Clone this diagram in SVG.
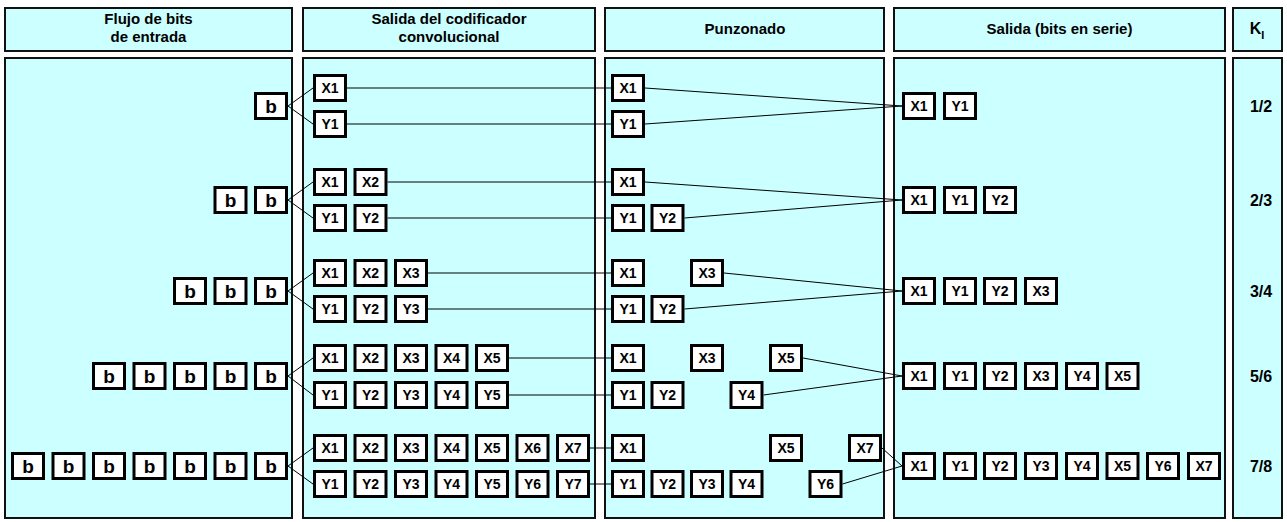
<svg xmlns="http://www.w3.org/2000/svg" width="1287" height="522" viewBox="0 0 1287 522">
<style>
.pn{fill:#ccffff;stroke:#111;stroke-width:2}
.bx{fill:#fff;stroke:#000;stroke-width:3}
.t{font-family:"Liberation Sans",Arial,sans-serif;font-weight:bold;font-size:14px;text-anchor:middle;fill:#000}
.tb{font-family:"Liberation Sans",Arial,sans-serif;font-weight:bold;font-size:19px;text-anchor:middle;fill:#000}
.h{font-family:"Liberation Sans",Arial,sans-serif;font-weight:bold;font-size:15px;text-anchor:middle;fill:#000}
.k{font-family:"Liberation Sans",Arial,sans-serif;font-weight:bold;font-size:16px;text-anchor:middle;fill:#000}
.ln{stroke:#000;stroke-width:1;fill:none}
</style>
<g id="panels">
<rect class="pn" x="5" y="8" width="287" height="43"/>
<rect class="pn" x="303" y="8" width="292" height="43"/>
<rect class="pn" x="605" y="8" width="279" height="43"/>
<rect class="pn" x="894" y="8" width="331" height="43"/>
<rect class="pn" x="1233" y="8" width="49" height="43"/>
<rect class="pn" x="5" y="58" width="287" height="460"/>
<rect class="pn" x="303" y="58" width="292" height="460"/>
<rect class="pn" x="605" y="58" width="279" height="460"/>
<rect class="pn" x="894" y="58" width="331" height="460"/>
<rect class="pn" x="1233" y="58" width="49" height="460"/>
</g>
<g id="headers">
<text class="h" x="148.5" y="24">Flujo de bits</text>
<text class="h" x="148.5" y="42">de entrada</text>
<text class="h" x="449" y="24">Salida del codificador</text>
<text class="h" x="449" y="42">convolucional</text>
<text class="h" x="745" y="34">Punzonado</text>
<text class="h" x="1059.5" y="34">Salida (bits en serie)</text>
<text class="k" x="1257" y="34">K<tspan font-size="11" dy="5">I</tspan></text>
</g>
<g id="rates">
<text class="k" x="1261" y="112">1/2</text>
<text class="k" x="1261" y="206">2/3</text>
<text class="k" x="1261" y="297">3/4</text>
<text class="k" x="1261" y="382">5/6</text>
<text class="k" x="1261" y="472">7/8</text>
</g>
<g id="connectors">
<!-- row 1 -->
<line class="ln" x1="288" y1="106" x2="313" y2="88"/>
<line class="ln" x1="288" y1="106" x2="313" y2="124"/>
<line class="ln" x1="347" y1="88" x2="611" y2="88"/>
<line class="ln" x1="347" y1="124" x2="611" y2="124"/>
<line class="ln" x1="645" y1="88" x2="902" y2="106"/>
<line class="ln" x1="645" y1="124" x2="902" y2="106"/>
<!-- row 2 -->
<line class="ln" x1="288" y1="200" x2="313" y2="182"/>
<line class="ln" x1="288" y1="200" x2="313" y2="218"/>
<line class="ln" x1="387.5" y1="182" x2="611" y2="182"/>
<line class="ln" x1="387.5" y1="218" x2="611" y2="218"/>
<line class="ln" x1="645" y1="182" x2="902" y2="200"/>
<line class="ln" x1="684.5" y1="218" x2="902" y2="200"/>
<!-- row 3 -->
<line class="ln" x1="288" y1="291" x2="313" y2="273"/>
<line class="ln" x1="288" y1="291" x2="313" y2="309"/>
<line class="ln" x1="428" y1="273" x2="611" y2="273"/>
<line class="ln" x1="428" y1="309" x2="611" y2="309"/>
<line class="ln" x1="724" y1="273" x2="902" y2="291"/>
<line class="ln" x1="684.5" y1="309" x2="902" y2="291"/>
<!-- row 4 -->
<line class="ln" x1="288" y1="376" x2="313" y2="358"/>
<line class="ln" x1="288" y1="376" x2="313" y2="395"/>
<line class="ln" x1="509" y1="358" x2="611" y2="358"/>
<line class="ln" x1="509" y1="395" x2="611" y2="395"/>
<line class="ln" x1="803" y1="358" x2="902" y2="376"/>
<line class="ln" x1="763.5" y1="395" x2="902" y2="376"/>
<!-- row 5 -->
<line class="ln" x1="288" y1="466" x2="313" y2="448"/>
<line class="ln" x1="288" y1="466" x2="313" y2="484"/>
<line class="ln" x1="590" y1="448" x2="611" y2="448"/>
<line class="ln" x1="590" y1="484" x2="611" y2="484"/>
<line class="ln" x1="882" y1="448" x2="902" y2="466"/>
<line class="ln" x1="842.5" y1="484" x2="902" y2="466"/>
</g>
<!-- ROW 1 -->
<g id="r1-in1"><rect class="bx" x="255.5" y="93.5" width="31" height="25"/><text class="tb" x="271" y="113">b</text></g>
<g id="r1-eX1"><rect class="bx" x="314.5" y="75.5" width="31" height="25"/><text class="t" x="330" y="93">X1</text></g>
<g id="r1-eY1"><rect class="bx" x="314.5" y="111.5" width="31" height="25"/><text class="t" x="330" y="129">Y1</text></g>
<g id="r1-pX1"><rect class="bx" x="612.5" y="75.5" width="31" height="25"/><text class="t" x="628" y="93">X1</text></g>
<g id="r1-pY1"><rect class="bx" x="612.5" y="111.5" width="31" height="25"/><text class="t" x="628" y="129">Y1</text></g>
<g id="r1-oX1"><rect class="bx" x="903.5" y="93.5" width="31" height="25"/><text class="t" x="919" y="111">X1</text></g>
<g id="r1-oY1"><rect class="bx" x="944.5" y="93.5" width="31" height="25"/><text class="t" x="960" y="111">Y1</text></g>
<!-- ROW 2 -->
<g id="r2-in1"><rect class="bx" x="215" y="187.5" width="31" height="25"/><text class="tb" x="230.5" y="207">b</text></g>
<g id="r2-in2"><rect class="bx" x="255.5" y="187.5" width="31" height="25"/><text class="tb" x="271" y="207">b</text></g>
<g id="r2-eX1"><rect class="bx" x="314.5" y="169.5" width="31" height="25"/><text class="t" x="330" y="187">X1</text></g>
<g id="r2-eX2"><rect class="bx" x="355" y="169.5" width="31" height="25"/><text class="t" x="370.5" y="187">X2</text></g>
<g id="r2-eY1"><rect class="bx" x="314.5" y="205.5" width="31" height="25"/><text class="t" x="330" y="223">Y1</text></g>
<g id="r2-eY2"><rect class="bx" x="355" y="205.5" width="31" height="25"/><text class="t" x="370.5" y="223">Y2</text></g>
<g id="r2-pX1"><rect class="bx" x="612.5" y="169.5" width="31" height="25"/><text class="t" x="628" y="187">X1</text></g>
<g id="r2-pY1"><rect class="bx" x="612.5" y="205.5" width="31" height="25"/><text class="t" x="628" y="223">Y1</text></g>
<g id="r2-pY2"><rect class="bx" x="652" y="205.5" width="31" height="25"/><text class="t" x="667.5" y="223">Y2</text></g>
<g id="r2-oX1"><rect class="bx" x="903.5" y="187.5" width="31" height="25"/><text class="t" x="919" y="205">X1</text></g>
<g id="r2-oY1"><rect class="bx" x="944.5" y="187.5" width="31" height="25"/><text class="t" x="960" y="205">Y1</text></g>
<g id="r2-oY2"><rect class="bx" x="984.5" y="187.5" width="31" height="25"/><text class="t" x="1000" y="205">Y2</text></g>
<!-- ROW 3 -->
<g id="r3-in1"><rect class="bx" x="174.5" y="278.5" width="31" height="25"/><text class="tb" x="190" y="298">b</text></g>
<g id="r3-in2"><rect class="bx" x="215" y="278.5" width="31" height="25"/><text class="tb" x="230.5" y="298">b</text></g>
<g id="r3-in3"><rect class="bx" x="255.5" y="278.5" width="31" height="25"/><text class="tb" x="271" y="298">b</text></g>
<g id="r3-eX1"><rect class="bx" x="314.5" y="260.5" width="31" height="25"/><text class="t" x="330" y="278">X1</text></g>
<g id="r3-eX2"><rect class="bx" x="355" y="260.5" width="31" height="25"/><text class="t" x="370.5" y="278">X2</text></g>
<g id="r3-eX3"><rect class="bx" x="395.5" y="260.5" width="31" height="25"/><text class="t" x="411" y="278">X3</text></g>
<g id="r3-eY1"><rect class="bx" x="314.5" y="296.5" width="31" height="25"/><text class="t" x="330" y="314">Y1</text></g>
<g id="r3-eY2"><rect class="bx" x="355" y="296.5" width="31" height="25"/><text class="t" x="370.5" y="314">Y2</text></g>
<g id="r3-eY3"><rect class="bx" x="395.5" y="296.5" width="31" height="25"/><text class="t" x="411" y="314">Y3</text></g>
<g id="r3-pX1"><rect class="bx" x="612.5" y="260.5" width="31" height="25"/><text class="t" x="628" y="278">X1</text></g>
<g id="r3-pX3"><rect class="bx" x="691.5" y="260.5" width="31" height="25"/><text class="t" x="707" y="278">X3</text></g>
<g id="r3-pY1"><rect class="bx" x="612.5" y="296.5" width="31" height="25"/><text class="t" x="628" y="314">Y1</text></g>
<g id="r3-pY2"><rect class="bx" x="652" y="296.5" width="31" height="25"/><text class="t" x="667.5" y="314">Y2</text></g>
<g id="r3-oX1"><rect class="bx" x="903.5" y="278.5" width="31" height="25"/><text class="t" x="919" y="296">X1</text></g>
<g id="r3-oY1"><rect class="bx" x="944.5" y="278.5" width="31" height="25"/><text class="t" x="960" y="296">Y1</text></g>
<g id="r3-oY2"><rect class="bx" x="984.5" y="278.5" width="31" height="25"/><text class="t" x="1000" y="296">Y2</text></g>
<g id="r3-oX3"><rect class="bx" x="1025.5" y="278.5" width="31" height="25"/><text class="t" x="1041" y="296">X3</text></g>
<!-- ROW 4 -->
<g id="r4-in1"><rect class="bx" x="93.5" y="363.5" width="31" height="25"/><text class="tb" x="109" y="383">b</text></g>
<g id="r4-in2"><rect class="bx" x="134" y="363.5" width="31" height="25"/><text class="tb" x="149.5" y="383">b</text></g>
<g id="r4-in3"><rect class="bx" x="174.5" y="363.5" width="31" height="25"/><text class="tb" x="190" y="383">b</text></g>
<g id="r4-in4"><rect class="bx" x="215" y="363.5" width="31" height="25"/><text class="tb" x="230.5" y="383">b</text></g>
<g id="r4-in5"><rect class="bx" x="255.5" y="363.5" width="31" height="25"/><text class="tb" x="271" y="383">b</text></g>
<g id="r4-eX1"><rect class="bx" x="314.5" y="345.5" width="31" height="25"/><text class="t" x="330" y="363">X1</text></g>
<g id="r4-eX2"><rect class="bx" x="355" y="345.5" width="31" height="25"/><text class="t" x="370.5" y="363">X2</text></g>
<g id="r4-eX3"><rect class="bx" x="395.5" y="345.5" width="31" height="25"/><text class="t" x="411" y="363">X3</text></g>
<g id="r4-eX4"><rect class="bx" x="436" y="345.5" width="31" height="25"/><text class="t" x="451.5" y="363">X4</text></g>
<g id="r4-eX5"><rect class="bx" x="476.5" y="345.5" width="31" height="25"/><text class="t" x="492" y="363">X5</text></g>
<g id="r4-eY1"><rect class="bx" x="314.5" y="382.5" width="31" height="25"/><text class="t" x="330" y="400">Y1</text></g>
<g id="r4-eY2"><rect class="bx" x="355" y="382.5" width="31" height="25"/><text class="t" x="370.5" y="400">Y2</text></g>
<g id="r4-eY3"><rect class="bx" x="395.5" y="382.5" width="31" height="25"/><text class="t" x="411" y="400">Y3</text></g>
<g id="r4-eY4"><rect class="bx" x="436" y="382.5" width="31" height="25"/><text class="t" x="451.5" y="400">Y4</text></g>
<g id="r4-eY5"><rect class="bx" x="476.5" y="382.5" width="31" height="25"/><text class="t" x="492" y="400">Y5</text></g>
<g id="r4-pX1"><rect class="bx" x="612.5" y="345.5" width="31" height="25"/><text class="t" x="628" y="363">X1</text></g>
<g id="r4-pX3"><rect class="bx" x="691.5" y="345.5" width="31" height="25"/><text class="t" x="707" y="363">X3</text></g>
<g id="r4-pX5"><rect class="bx" x="770.5" y="345.5" width="31" height="25"/><text class="t" x="786" y="363">X5</text></g>
<g id="r4-pY1"><rect class="bx" x="612.5" y="382.5" width="31" height="25"/><text class="t" x="628" y="400">Y1</text></g>
<g id="r4-pY2"><rect class="bx" x="652" y="382.5" width="31" height="25"/><text class="t" x="667.5" y="400">Y2</text></g>
<g id="r4-pY4"><rect class="bx" x="731" y="382.5" width="31" height="25"/><text class="t" x="746.5" y="400">Y4</text></g>
<g id="r4-oX1"><rect class="bx" x="903.5" y="363.5" width="31" height="25"/><text class="t" x="919" y="381">X1</text></g>
<g id="r4-oY1"><rect class="bx" x="944.5" y="363.5" width="31" height="25"/><text class="t" x="960" y="381">Y1</text></g>
<g id="r4-oY2"><rect class="bx" x="984.5" y="363.5" width="31" height="25"/><text class="t" x="1000" y="381">Y2</text></g>
<g id="r4-oX3"><rect class="bx" x="1025.5" y="363.5" width="31" height="25"/><text class="t" x="1041" y="381">X3</text></g>
<g id="r4-oY4"><rect class="bx" x="1066.5" y="363.5" width="31" height="25"/><text class="t" x="1082" y="381">Y4</text></g>
<g id="r4-oX5"><rect class="bx" x="1107" y="363.5" width="31" height="25"/><text class="t" x="1122.5" y="381">X5</text></g>
<!-- ROW 5 -->
<g id="r5-in1"><rect class="bx" x="12.5" y="453.5" width="31" height="25"/><text class="tb" x="28" y="473">b</text></g>
<g id="r5-in2"><rect class="bx" x="53" y="453.5" width="31" height="25"/><text class="tb" x="68.5" y="473">b</text></g>
<g id="r5-in3"><rect class="bx" x="93.5" y="453.5" width="31" height="25"/><text class="tb" x="109" y="473">b</text></g>
<g id="r5-in4"><rect class="bx" x="134" y="453.5" width="31" height="25"/><text class="tb" x="149.5" y="473">b</text></g>
<g id="r5-in5"><rect class="bx" x="174.5" y="453.5" width="31" height="25"/><text class="tb" x="190" y="473">b</text></g>
<g id="r5-in6"><rect class="bx" x="215" y="453.5" width="31" height="25"/><text class="tb" x="230.5" y="473">b</text></g>
<g id="r5-in7"><rect class="bx" x="255.5" y="453.5" width="31" height="25"/><text class="tb" x="271" y="473">b</text></g>
<g id="r5-eX1"><rect class="bx" x="314.5" y="435.5" width="31" height="25"/><text class="t" x="330" y="453">X1</text></g>
<g id="r5-eX2"><rect class="bx" x="355" y="435.5" width="31" height="25"/><text class="t" x="370.5" y="453">X2</text></g>
<g id="r5-eX3"><rect class="bx" x="395.5" y="435.5" width="31" height="25"/><text class="t" x="411" y="453">X3</text></g>
<g id="r5-eX4"><rect class="bx" x="436" y="435.5" width="31" height="25"/><text class="t" x="451.5" y="453">X4</text></g>
<g id="r5-eX5"><rect class="bx" x="476.5" y="435.5" width="31" height="25"/><text class="t" x="492" y="453">X5</text></g>
<g id="r5-eX6"><rect class="bx" x="517" y="435.5" width="31" height="25"/><text class="t" x="532.5" y="453">X6</text></g>
<g id="r5-eX7"><rect class="bx" x="557.5" y="435.5" width="31" height="25"/><text class="t" x="573" y="453">X7</text></g>
<g id="r5-eY1"><rect class="bx" x="314.5" y="471.5" width="31" height="25"/><text class="t" x="330" y="489">Y1</text></g>
<g id="r5-eY2"><rect class="bx" x="355" y="471.5" width="31" height="25"/><text class="t" x="370.5" y="489">Y2</text></g>
<g id="r5-eY3"><rect class="bx" x="395.5" y="471.5" width="31" height="25"/><text class="t" x="411" y="489">Y3</text></g>
<g id="r5-eY4"><rect class="bx" x="436" y="471.5" width="31" height="25"/><text class="t" x="451.5" y="489">Y4</text></g>
<g id="r5-eY5"><rect class="bx" x="476.5" y="471.5" width="31" height="25"/><text class="t" x="492" y="489">Y5</text></g>
<g id="r5-eY6"><rect class="bx" x="517" y="471.5" width="31" height="25"/><text class="t" x="532.5" y="489">Y6</text></g>
<g id="r5-eY7"><rect class="bx" x="557.5" y="471.5" width="31" height="25"/><text class="t" x="573" y="489">Y7</text></g>
<g id="r5-pX1"><rect class="bx" x="612.5" y="435.5" width="31" height="25"/><text class="t" x="628" y="453">X1</text></g>
<g id="r5-pX5"><rect class="bx" x="770.5" y="435.5" width="31" height="25"/><text class="t" x="786" y="453">X5</text></g>
<g id="r5-pX7"><rect class="bx" x="849.5" y="435.5" width="31" height="25"/><text class="t" x="865" y="453">X7</text></g>
<g id="r5-pY1"><rect class="bx" x="612.5" y="471.5" width="31" height="25"/><text class="t" x="628" y="489">Y1</text></g>
<g id="r5-pY2"><rect class="bx" x="652" y="471.5" width="31" height="25"/><text class="t" x="667.5" y="489">Y2</text></g>
<g id="r5-pY3"><rect class="bx" x="691.5" y="471.5" width="31" height="25"/><text class="t" x="707" y="489">Y3</text></g>
<g id="r5-pY4"><rect class="bx" x="731" y="471.5" width="31" height="25"/><text class="t" x="746.5" y="489">Y4</text></g>
<g id="r5-pY6"><rect class="bx" x="810" y="471.5" width="31" height="25"/><text class="t" x="825.5" y="489">Y6</text></g>
<g id="r5-oX1"><rect class="bx" x="903.5" y="453.5" width="31" height="25"/><text class="t" x="919" y="471">X1</text></g>
<g id="r5-oY1"><rect class="bx" x="944.5" y="453.5" width="31" height="25"/><text class="t" x="960" y="471">Y1</text></g>
<g id="r5-oY2"><rect class="bx" x="984.5" y="453.5" width="31" height="25"/><text class="t" x="1000" y="471">Y2</text></g>
<g id="r5-oY3"><rect class="bx" x="1025.5" y="453.5" width="31" height="25"/><text class="t" x="1041" y="471">Y3</text></g>
<g id="r5-oY4"><rect class="bx" x="1066.5" y="453.5" width="31" height="25"/><text class="t" x="1082" y="471">Y4</text></g>
<g id="r5-oX5"><rect class="bx" x="1107" y="453.5" width="31" height="25"/><text class="t" x="1122.5" y="471">X5</text></g>
<g id="r5-oY6"><rect class="bx" x="1147.5" y="453.5" width="31" height="25"/><text class="t" x="1163" y="471">Y6</text></g>
<g id="r5-oX7"><rect class="bx" x="1188.5" y="453.5" width="31" height="25"/><text class="t" x="1204" y="471">X7</text></g>
</svg>
